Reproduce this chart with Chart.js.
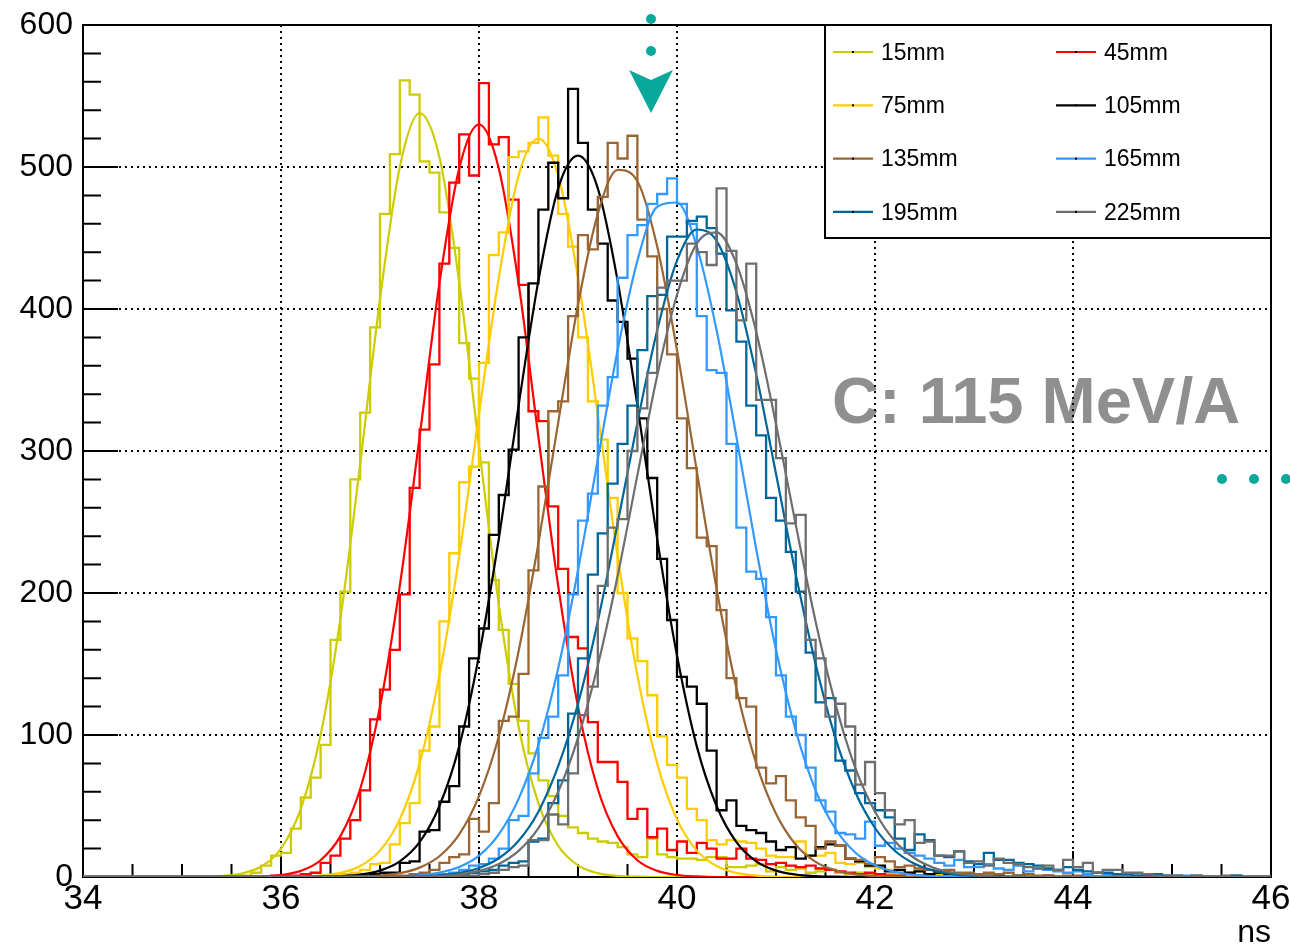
<!DOCTYPE html>
<html>
<head>
<meta charset="utf-8">
<script src="https://cdn.jsdelivr.net/npm/chart.js@4.4.1/dist/chart.umd.min.js"></script>
<style>
  html, body { margin: 0; padding: 0; background: #fff; }
  #wrap { position: relative; width: 1290px; height: 949px; }
</style>
</head>
<body>
<div id="wrap"><canvas id="chart" width="1290" height="949"></canvas></div>
<script>
// Time-of-flight spectra, one histogram + gaussian fit per distance
const FONT = '"Liberation Sans", Arial, Helvetica, sans-serif';

const seriesLabels = ['15mm', '45mm', '75mm', '105mm', '135mm', '165mm', '195mm', '225mm'];
const seriesColors = ['#cccc00', '#ff0000', '#ffcc00', '#000000', '#996633', '#3399ff', '#006699', '#6e6e6e'];

const xTicks = [34, 36, 38, 40, 42, 44, 46];
const yTicks = [0, 100, 200, 300, 400, 500, 600];

// histogram bins: 0.1 ns wide, first bin starts at 34.0 ns (10 bins per row)
const BIN_START = 34.0;
const BIN_WIDTH = 0.1;

const h15 = [
  0, 0, 0, 0, 0, 0, 0, 0, 0, 0,
  0, 0, 0, 0, 0, 0, 1, 3, 8, 15,
  17, 34, 56, 70, 93, 167, 201, 280, 327, 387,
  467, 509, 561, 551, 504, 496, 468, 443, 376, 351,
  292, 209, 174, 136, 110, 87, 68, 57, 43, 35,
  31, 27, 25, 24, 21, 16, 14, 27, 16, 14,
  13, 13, 12, 14, 14, 7, 7, 8, 9, 4,
  7, 5, 6, 3, 4, 5, 3, 2, 3, 2,
  1, 2, 1, 0, 1, 1, 0, 0, 1, 0,
  0, 0, 0, 0, 0, 0, 0, 0, 0, 0,
  0, 0, 0, 0, 0, 0, 0, 0, 0, 0,
  0, 0, 0, 0, 0, 0, 0, 0, 0, 0
];
const h45 = [
  0, 0, 0, 0, 0, 0, 0, 0, 0, 0,
  0, 0, 0, 0, 0, 0, 0, 0, 0, 1,
  1, 1, 2, 3, 10, 15, 27, 40, 61, 111,
  132, 160, 199, 274, 315, 361, 432, 489, 523, 494,
  559, 516, 521, 477, 417, 328, 321, 261, 217, 169,
  161, 109, 81, 81, 67, 41, 48, 28, 34, 19,
  25, 17, 24, 20, 13, 13, 20, 13, 12, 9,
  10, 8, 7, 8, 6, 5, 4, 3, 2, 3,
  2, 1, 1, 0, 1, 0, 0, 1, 0, 0,
  0, 0, 0, 0, 0, 0, 0, 0, 0, 0,
  0, 0, 0, 0, 0, 0, 0, 0, 0, 0,
  0, 0, 0, 0, 0, 0, 0, 0, 0, 0
];
const h75 = [
  0, 0, 0, 0, 0, 0, 0, 0, 0, 0,
  0, 0, 0, 0, 0, 0, 0, 0, 0, 0,
  0, 0, 0, 0, 0, 1, 2, 3, 5, 9,
  10, 23, 38, 52, 89, 106, 180, 228, 278, 289,
  362, 438, 454, 507, 511, 517, 535, 508, 467, 444,
  380, 335, 308, 267, 200, 168, 152, 128, 99, 79,
  70, 48, 40, 26, 23, 26, 25, 24, 20, 15,
  14, 14, 25, 15, 15, 17, 10, 9, 10, 7,
  6, 5, 4, 3, 4, 2, 2, 1, 1, 0,
  1, 0, 0, 0, 0, 0, 0, 0, 0, 0,
  0, 0, 0, 0, 0, 0, 0, 0, 0, 0,
  0, 0, 0, 0, 0, 0, 0, 0, 0, 0
];
const h105 = [
  0, 0, 0, 0, 0, 0, 0, 0, 0, 0,
  0, 0, 0, 0, 0, 0, 0, 0, 0, 0,
  0, 0, 0, 0, 0, 0, 0, 0, 1, 2,
  3, 3, 10, 11, 32, 33, 53, 64, 106, 154,
  175, 241, 269, 301, 380, 418, 470, 503, 478, 555,
  517, 470, 446, 406, 391, 365, 323, 281, 224, 181,
  141, 134, 122, 89, 47, 54, 36, 33, 31, 25,
  19, 21, 13, 15, 21, 23, 22, 13, 11, 8,
  8, 4, 5, 3, 4, 2, 3, 2, 2, 1,
  2, 1, 1, 0, 1, 0, 0, 1, 0, 0,
  0, 0, 0, 0, 0, 0, 0, 0, 0, 0,
  0, 0, 0, 0, 0, 0, 0, 0, 0, 0
];
const h135 = [
  0, 0, 0, 0, 0, 0, 0, 0, 0, 0,
  0, 0, 0, 0, 0, 0, 0, 0, 0, 0,
  0, 0, 0, 0, 0, 0, 0, 0, 0, 0,
  0, 0, 1, 2, 3, 5, 10, 14, 16, 41,
  32, 52, 110, 113, 143, 216, 275, 328, 335, 395,
  452, 442, 479, 517, 506, 522, 463, 437, 400, 368,
  323, 288, 239, 233, 188, 140, 126, 120, 77, 66,
  71, 54, 42, 36, 20, 25, 22, 13, 12, 9,
  14, 11, 7, 8, 6, 5, 4, 5, 3, 3,
  2, 3, 2, 3, 1, 2, 1, 1, 0, 1,
  1, 0, 0, 0, 0, 1, 0, 0, 0, 0,
  0, 0, 0, 0, 0, 0, 1, 0, 0, 0
];
const h165 = [
  0, 0, 0, 0, 0, 0, 0, 0, 0, 0,
  0, 0, 0, 0, 0, 0, 0, 0, 0, 0,
  0, 0, 0, 0, 0, 0, 0, 0, 0, 0,
  0, 0, 0, 0, 0, 1, 2, 3, 5, 8,
  9, 13, 20, 40, 43, 73, 98, 113, 142, 199,
  251, 270, 332, 352, 422, 452, 459, 474, 481, 492,
  474, 460, 395, 357, 355, 305, 246, 215, 210, 183,
  142, 113, 100, 77, 54, 46, 31, 30, 27, 39,
  22, 24, 20, 17, 15, 13, 10, 8, 12, 7,
  7, 9, 6, 5, 8, 4, 6, 5, 4, 3,
  4, 2, 3, 2, 2, 1, 1, 1, 0, 1,
  0, 1, 0, 0, 0, 0, 0, 0, 0, 0
];
const h195 = [
  0, 0, 0, 0, 0, 0, 0, 0, 0, 0,
  0, 0, 0, 0, 0, 0, 0, 0, 0, 0,
  0, 0, 0, 0, 0, 0, 0, 0, 0, 0,
  0, 0, 0, 0, 0, 0, 1, 1, 2, 3,
  4, 5, 8, 10, 11, 25, 27, 52, 68, 115,
  154, 213, 242, 277, 305, 332, 371, 409, 410, 451,
  451, 462, 465, 457, 439, 399, 377, 332, 311, 267,
  251, 229, 201, 158, 123, 126, 82, 75, 59, 52,
  47, 42, 27, 19, 30, 26, 15, 14, 18, 11,
  9, 17, 12, 12, 10, 9, 8, 6, 5, 7,
  5, 4, 3, 3, 2, 2, 1, 1, 2, 1,
  1, 0, 1, 0, 0, 0, 1, 0, 0, 0
];
const h225 = [
  0, 0, 0, 0, 0, 0, 0, 0, 0, 0,
  0, 0, 0, 0, 0, 0, 0, 0, 0, 0,
  0, 0, 0, 0, 0, 0, 0, 0, 0, 0,
  0, 0, 0, 0, 0, 0, 0, 0, 1, 1,
  2, 3, 5, 7, 8, 26, 26, 44, 37, 73,
  114, 134, 205, 246, 252, 300, 330, 355, 415, 420,
  420, 446, 440, 431, 485, 441, 392, 432, 336, 336,
  295, 249, 255, 167, 154, 113, 122, 106, 65, 81,
  59, 47, 37, 40, 24, 25, 15, 15, 18, 10,
  11, 8, 13, 10, 9, 7, 6, 8, 5, 12,
  7, 10, 3, 5, 5, 3, 3, 2, 1, 1,
  1, 0, 1, 0, 0, 1, 0, 0, 0, 0
];

// fitted curves, sampled every 0.2 ns from 35.0 to 46.0 (5 samples per row)
const FIT_START = 35.0;
const FIT_STEP = 0.2;

const f15 = [
  0, 0, 0.7, 2.4, 7.4,
  20, 48, 100, 182, 291,
  407, 500, 538, 507, 419,
  303, 192, 106, 52, 22,
  8.2, 2.7, 0.8, 0.2, 0,
  0, 0, 0, 0, 0,  0, 0, 0, 0, 0,  0, 0, 0, 0, 0,
  0, 0, 0, 0, 0,  0, 0, 0, 0, 0,  0, 0, 0, 0, 0,  0
];
const f45 = [
  0, 0, 0, 0, 0.4,
  1.4, 4.3, 11.8, 28.8, 62,
  120, 205, 310, 418, 499,
  530, 499, 418, 310, 205,
  120, 62, 28.8, 11.8, 4.3,
  1.4, 0.4, 0, 0, 0,
  0, 0, 0, 0, 0,  0, 0, 0, 0, 0,  0, 0, 0, 0, 0,
  0, 0, 0, 0, 0,  0, 0, 0, 0, 0,  0
];
const f75 = [
  0, 0, 0, 0, 0,
  0, 0.3, 1.0, 2.9, 7.7,
  18.6, 40.6, 80, 142, 226,
  326, 422, 494, 520, 494,
  422, 326, 226, 142, 80,
  40.6, 18.6, 7.7, 2.9, 1.0,
  0.3, 0, 0, 0, 0,
  0, 0, 0, 0, 0,  0, 0, 0, 0, 0,
  0, 0, 0, 0, 0,  0, 0, 0, 0, 0,  0
];
const f105 = [
  0, 0, 0, 0, 0,
  0, 0, 0.2, 0.6, 1.7,
  4.5, 11, 24.5, 50, 92,
  156, 238, 332, 420, 485,
  508, 485, 420, 332, 238,
  156, 92, 50, 24.5, 11,
  4.5, 1.7, 0.6, 0.2, 0,
  0, 0, 0, 0, 0,  0, 0, 0, 0, 0,
  0, 0, 0, 0, 0,  0, 0, 0, 0, 0,  0
];
const f135 = [
  0, 0, 0, 0, 0,
  0, 0, 0, 0, 0.4,
  1.0, 2.7, 6.6, 14.6, 30,
  57, 99, 159, 235, 320,
  403, 467, 498, 490, 444,
  371, 286, 203, 133, 80,
  44.5, 22.7, 10.7, 4.7, 1.9,
  0.7, 0.2, 0, 0, 0,
  0, 0, 0, 0, 0,  0, 0, 0, 0, 0,
  0, 0, 0, 0, 0,  0
];
const f165 = [
  0, 0, 0, 0, 0,
  0, 0, 0, 0, 0,
  0.2, 0.5, 1.2, 3.1, 7.0,
  15, 30, 55, 93, 147,
  216, 294, 371, 434, 472,
  475, 444, 385, 310, 231,
  160, 103, 61, 34, 17.3,
  8.3, 3.6, 1.5, 0.6, 0.2,
  0, 0, 0, 0, 0,  0, 0, 0, 0, 0,
  0, 0, 0, 0, 0,  0
];
const f195 = [
  0, 0, 0, 0, 0,
  0, 0, 0, 0, 0,
  0.1, 0.2, 0.5, 1.2, 2.9,
  6.4, 13.2, 25.5, 46, 78,
  122, 180, 249, 320, 385,
  434, 456, 448, 412, 354,
  284, 213, 150, 98, 60,
  34.5, 18.5, 9.3, 4.3, 1.9,
  0.8, 0.3, 0.1, 0, 0,
  0, 0, 0, 0, 0,  0, 0, 0, 0, 0,  0
];
const f225 = [
  0, 0, 0, 0, 0,
  0, 0, 0, 0, 0,
  0, 0.1, 0.3, 0.8, 1.9,
  4.3, 9.2, 18.4, 34.4, 60,
  98, 149, 212, 283, 353,
  410, 446, 454, 432, 384,
  319, 248, 180, 122, 77,
  46, 25.4, 13.2, 6.4, 2.9,
  1.2, 0.5, 0.2, 0, 0,
  0, 0, 0, 0, 0,  0, 0, 0, 0, 0,  0
];

const histograms = [h15, h45, h75, h105, h135, h165, h195, h225];
const fits = [f15, f45, f75, f105, f135, f165, f195, f225];

// outline of a histogram: both edges of every bin
function histPoints(vals) {
  const pts = [];
  vals.forEach((v, i) => {
    const lo = BIN_START + i * BIN_WIDTH;
    pts.push({ x: lo, y: v }, { x: lo + BIN_WIDTH, y: v });
  });
  return pts;
}

function fitPoints(vals) {
  return vals.map((v, i) => ({ x: FIT_START + i * FIT_STEP, y: v }));
}

const datasets = [];
seriesLabels.forEach((label, k) => {
  datasets.push({
    label: label,
    data: histPoints(histograms[k]),
    borderColor: seriesColors[k],
    borderWidth: 2.3,
    pointRadius: 0,
    tension: 0,
    fill: false,
    order: 20 - 2 * k
  });
  datasets.push({
    label: label + ' fit',
    data: fitPoints(fits[k]),
    borderColor: seriesColors[k],
    borderWidth: 2.2,
    pointRadius: 0,
    cubicInterpolationMode: 'monotone',
    fill: false,
    order: 19 - 2 * k
  });
});

// ROOT-like frame with inward ticks, the legend box and the annotations
const rootDecor = {
  id: 'rootDecor',
  beforeDraw(chart) {
    const ctx = chart.ctx;
    ctx.save();
    ctx.fillStyle = '#8f8f8f';
    ctx.font = 'bold 65px ' + FONT;
    ctx.textBaseline = 'alphabetic';
    ctx.fillText('C: 115 MeV/A', 832, 423);
    ctx.restore();
  },
  beforeDatasetsDraw(chart) {
    const { ctx, chartArea: a, scales: { x, y } } = chart;
    ctx.save();
    ctx.strokeStyle = '#000';
    ctx.lineWidth = 2;
    ctx.beginPath();
    for (let v = xTicks[0]; v <= xTicks[xTicks.length - 1] + 1e-6; v += 0.5) {
      const px = x.getPixelForValue(v);
      const major = xTicks.some(t => Math.abs(t - v) < 1e-6);
      ctx.moveTo(px, a.bottom);
      ctx.lineTo(px, a.bottom - (major ? 26 : 13));
    }
    for (let v = yTicks[0]; v <= yTicks[yTicks.length - 1]; v += 20) {
      const py = y.getPixelForValue(v);
      const major = yTicks.includes(v);
      ctx.moveTo(a.left, py);
      ctx.lineTo(a.left + (major ? 35 : 18), py);
    }
    ctx.stroke();
    ctx.strokeRect(a.left, a.top, a.right - a.left, a.bottom - a.top);
    ctx.restore();
  },
  afterDatasetsDraw(chart) {
    const ctx = chart.ctx;
    ctx.save();
    // legend
    const box = { left: 825, top: 25, right: 1271, bottom: 238 };
    ctx.fillStyle = '#fff';
    ctx.fillRect(box.left, box.top, box.right - box.left, box.bottom - box.top);
    ctx.strokeStyle = '#000';
    ctx.lineWidth = 2;
    ctx.strokeRect(box.left, box.top, box.right - box.left, box.bottom - box.top);
    ctx.font = '23px ' + FONT;
    ctx.textBaseline = 'middle';
    seriesLabels.forEach((label, k) => {
      const col = k % 2;
      const row = Math.floor(k / 2);
      const x0 = col ? 1056 : 833;
      const yy = 52 + row * 53.3;
      ctx.strokeStyle = seriesColors[k];
      ctx.lineWidth = 2.2;
      ctx.beginPath();
      ctx.moveTo(x0, yy);
      ctx.lineTo(x0 + 40, yy);
      ctx.stroke();
      ctx.fillStyle = '#000';
      ctx.fillRect(x0 + 19, yy - 1, 2, 2);
      ctx.fillText(label, x0 + 48, yy + 1.5);
    });
    ctx.restore();
  },
  afterDraw(chart) {
    const ctx = chart.ctx;
    ctx.save();
    ctx.fillStyle = '#0aa89b';
    [[651, 19], [651, 51], [1222, 479], [1254, 479], [1286, 479]].forEach(([cx, cy]) => {
      ctx.beginPath();
      ctx.arc(cx, cy, 5, 0, Math.PI * 2);
      ctx.fill();
    });
    ctx.beginPath();
    ctx.moveTo(629, 70);
    ctx.lineTo(651, 80);
    ctx.lineTo(673, 70);
    ctx.lineTo(651, 113);
    ctx.closePath();
    ctx.fill();
    ctx.restore();
  }
};

new Chart(document.getElementById('chart').getContext('2d'), {
  type: 'line',
  data: { datasets: datasets },
  options: {
    responsive: false,
    animation: false,
    devicePixelRatio: 1,
    layout: { padding: { top: 25, right: 19, left: 0, bottom: 0 } },
    plugins: {
      legend: { display: false },
      tooltip: { enabled: false }
    },
    scales: {
      x: {
        type: 'linear',
        min: xTicks[0],
        max: xTicks[xTicks.length - 1],
        afterBuildTicks: scale => { scale.ticks = xTicks.map(v => ({ value: v })); },
        afterFit: scale => { scale.height = 72; scale.paddingLeft = 0; scale.paddingRight = 0; },
        ticks: {
          color: '#000',
          font: { family: FONT, size: 35 },
          padding: 1,
          maxRotation: 0,
          autoSkip: false
        },
        grid: { color: '#000', lineWidth: 2, drawTicks: false },
        border: { display: false, dash: [2, 4] },
        title: {
          display: true,
          text: 'ns',
          align: 'end',
          color: '#000',
          font: { family: FONT, size: 32, lineHeight: 1 },
          padding: { top: 0, bottom: 0 }
        }
      },
      y: {
        min: yTicks[0],
        max: yTicks[yTicks.length - 1],
        afterBuildTicks: scale => { scale.ticks = yTicks.map(v => ({ value: v })); },
        afterFit: scale => { scale.width = 83; scale.paddingTop = 0; scale.paddingBottom = 0; },
        ticks: {
          color: '#000',
          font: { family: FONT, size: 32 },
          padding: 10,
          autoSkip: false
        },
        grid: { color: '#000', lineWidth: 2, drawTicks: false },
        border: { display: false, dash: [2, 4] }
      }
    }
  },
  plugins: [rootDecor]
});
</script>
</body>
</html>
